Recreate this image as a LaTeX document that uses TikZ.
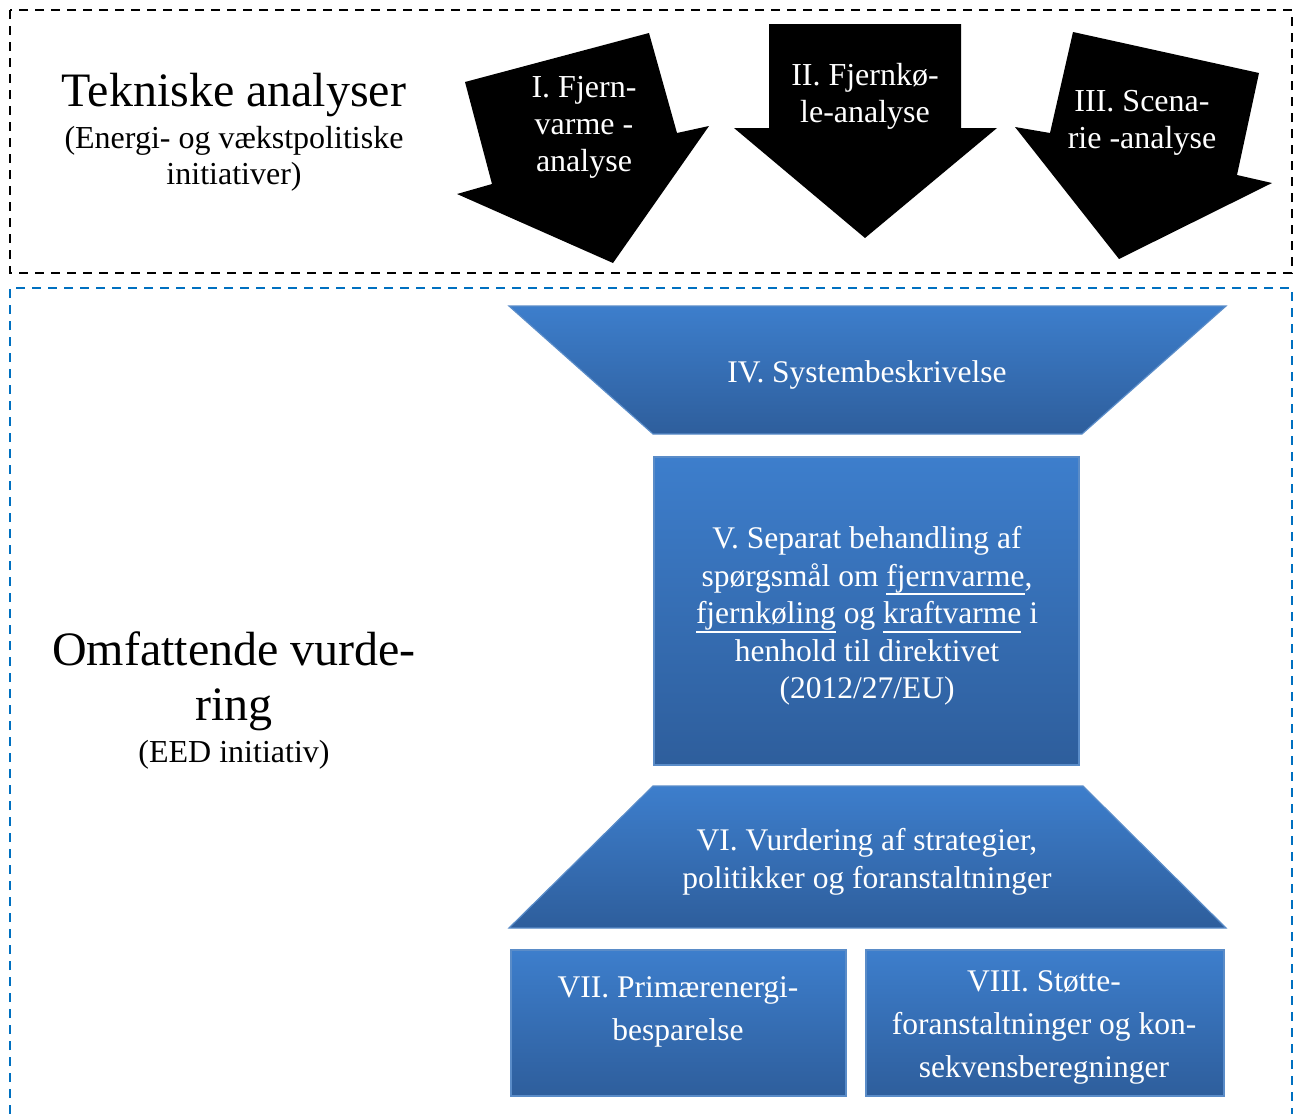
\documentclass[tikz,border=0pt]{standalone}
\usepackage{fontspec}
\setmainfont{Liberation Serif}
\definecolor{topblue}{RGB}{61,126,204}
\definecolor{botblue}{RGB}{46,94,156}
\definecolor{edgeblue}{RGB}{90,140,200}
\definecolor{dashblue}{RGB}{0,112,192}
\newsavebox{\ulbox}
\newcommand{\ulword}[1]{\sbox{\ulbox}{#1}\rlap{\rule[-9pt]{\wd\ulbox}{1.8pt}}\usebox{\ulbox}}
\begin{document}
\begin{tikzpicture}[x=1pt,y=-1pt,
  blackdash/.style={draw=black,line width=2.5pt,dash pattern=on 9pt off 7pt},
  bluedash/.style={draw=dashblue,line width=2.5pt,dash pattern=on 9pt off 7pt},
  bigarrow/.style={fill=black},
  bluebox/.style={top color=topblue,bottom color=botblue,draw=edgeblue,line width=1.2pt},
  hdr/.style={font=\fontsize{48}{48}\selectfont,inner sep=0pt},
  sub/.style={font=\fontsize{32}{37}\selectfont,inner sep=0pt},
  arrowtext/.style={font=\fontsize{32}{37}\selectfont,text=white,align=center,inner sep=0pt},
  boxtext/.style={font=\fontsize{31.5}{37.5}\selectfont,text=white,align=center,inner sep=0pt},
  boxtextwide/.style={font=\fontsize{31.5}{43}\selectfont,text=white,align=center,inner sep=0pt}]
\useasboundingbox (0,0) rectangle (1299,1114);
% frames
\draw[blackdash] (10,10) rectangle (1292,273);
\draw[bluedash] (10,1114) -- (10,288) -- (1292,288) -- (1292,1114);
% black arrows
\path[bigarrow] (465,82) -- (649,33) -- (677,133) -- (709,126) -- (613,263) -- (457,194) -- (492,184) -- cycle;
\path[bigarrow] (769,24) -- (961,24) -- (961,128) -- (997,128) -- (865,238) -- (734,128) -- (769,128) -- cycle;
\path[bigarrow] (1073,32) -- (1259,73) -- (1237,175) -- (1272,183) -- (1119,259) -- (1015,127) -- (1050,133) -- cycle;
\node[arrowtext] (a1) at (584,127) {I. Fjern-\\varme -\\analyse};
\node[arrowtext] (a2) at (865,96) {II. Fjernkø-\\le-analyse};
\node[arrowtext] (a3) at (1142,122.5) {III. Scena-\\rie -analyse};
% headers
\node[hdr,anchor=base] (t1) at (234,106) {Tekniske analyser};
\node[sub,anchor=base] (t1s1) at (234,148) {(Energi- og vækstpolitiske};
\node[sub,anchor=base] (t1s2) at (234,184) {initiativer)};
\node[hdr,anchor=base] (t2) at (234,665) {Omfattende vurde-};
\node[hdr,anchor=base] (t2b) at (234,720) {ring};
\node[sub,anchor=base] (t2s) at (234,762) {(EED initiativ)};
% blue shapes
\path[bluebox] (509,306) -- (1226,306) -- (1082,434) -- (653,434) -- cycle;
\path[bluebox] (654,457) rectangle (1079,765);
\path[bluebox] (653,786) -- (1083,786) -- (1226,928) -- (509,928) -- cycle;
\path[bluebox] (511,950) rectangle (846,1096);
\path[bluebox] (866,950) rectangle (1224,1096);
\node[boxtext] (b4) at (867,375) {IV. Systembeskrivelse};
\node[boxtext] (b5) at (867,616) {V. Separat behandling af\\spørgsmål om \ulword{fjernvarme},\\\ulword{fjernkøling} og \ulword{kraftvarme} i\\henhold til direktivet\\(2012/27/EU)};
\node[boxtext] (b6) at (867,862) {VI. Vurdering af strategier,\\politikker og foranstaltninger};
\node[boxtextwide] (b7) at (678,1012) {VII. Primærenergi-\\besparelse};
\node[boxtextwide] (b8) at (1044,1027) {VIII. Støtte-\\foranstaltninger og kon-\\sekvensberegninger};
\end{tikzpicture}
\end{document}
